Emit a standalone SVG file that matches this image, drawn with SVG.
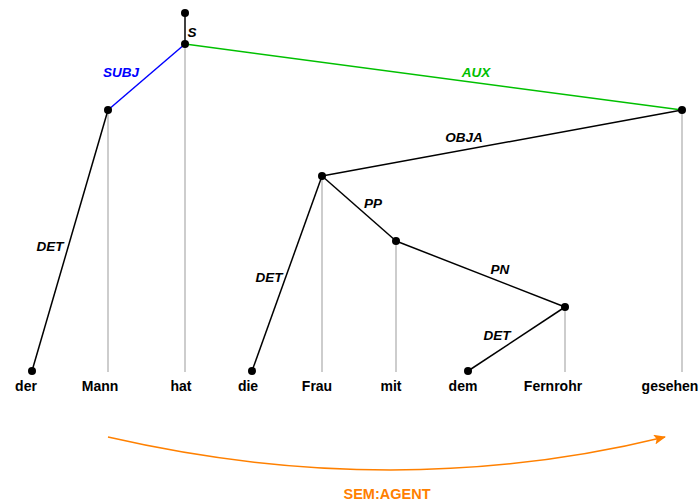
<svg xmlns="http://www.w3.org/2000/svg" width="699" height="504" viewBox="0 0 699 504">
<style>
.g{stroke:#bdbdbd;stroke-width:1.5;fill:none}
.e{stroke:#000;stroke-width:1.5;fill:none}
.d{fill:#000}
.w{font-family:"Liberation Sans",Arial,sans-serif;font-size:14px;font-weight:bold;text-anchor:middle;fill:#000}
.l{font-family:"Liberation Sans",Arial,sans-serif;font-size:13.5px;font-weight:bold;font-style:italic;text-anchor:middle;fill:#000}
</style>
<defs>
<marker id="ah" markerWidth="12" markerHeight="10" refX="11" refY="5" orient="auto" markerUnits="userSpaceOnUse">
<path d="M0,0 L12,5 L0,10 L2.5,5 Z" fill="#ff8000"/>
</marker>
</defs>
<g id="connectors">
<line class="g" x1="108" y1="110" x2="108" y2="372"/>
<line class="g" x1="185" y1="44" x2="185" y2="372"/>
<line class="g" x1="322" y1="176" x2="322" y2="372"/>
<line class="g" x1="396" y1="241" x2="396" y2="372"/>
<line class="g" x1="565" y1="307" x2="565" y2="372"/>
<line class="g" x1="682" y1="110" x2="682" y2="372"/>
<line class="e" x1="185" y1="13" x2="185" y2="44"/>
<line x1="185" y1="44" x2="108" y2="110" stroke="#0000ff" stroke-width="1.5"/>
<line x1="185" y1="44" x2="682" y2="110" stroke="#00c000" stroke-width="1.5"/>
<line class="e" x1="108" y1="110" x2="32" y2="371"/>
<line class="e" x1="682" y1="110" x2="322" y2="176"/>
<line class="e" x1="322" y1="176" x2="252" y2="371"/>
<line class="e" x1="322" y1="176" x2="396" y2="241"/>
<line class="e" x1="396" y1="241" x2="565" y2="307"/>
<line class="e" x1="565" y1="307" x2="468" y2="371"/>
<path d="M108,437 Q395,503 665,437" fill="none" stroke="#ff8000" stroke-width="1.5" marker-end="url(#ah)"/>
</g>
<g id="n-root"><circle class="d" cx="185" cy="13" r="4"/></g>
<g id="n-S"><circle class="d" cx="185" cy="44" r="4"/><text class="l" x="192" y="37">S</text></g>
<g id="n-Mann"><circle class="d" cx="108" cy="110" r="4"/></g>
<g id="n-gesehen"><circle class="d" cx="682" cy="110" r="4"/></g>
<g id="n-Frau"><circle class="d" cx="322" cy="176" r="4"/></g>
<g id="n-mit"><circle class="d" cx="396" cy="241" r="4"/></g>
<g id="n-Fernrohr"><circle class="d" cx="565" cy="307" r="4"/></g>
<g id="n-der"><circle class="d" cx="32" cy="371" r="4"/></g>
<g id="n-die"><circle class="d" cx="252" cy="371" r="4"/></g>
<g id="n-dem"><circle class="d" cx="468" cy="371" r="4"/></g>
<g id="labels">
<text class="l" x="121" y="77" style="fill:#0000ff">SUBJ</text>
<text class="l" x="476" y="77" style="fill:#00c000">AUX</text>
<text class="l" x="464" y="142">OBJA</text>
<text class="l" x="373" y="208">PP</text>
<text class="l" x="500" y="274">PN</text>
<text class="l" x="50" y="251">DET</text>
<text class="l" x="269" y="282">DET</text>
<text class="l" x="497" y="340">DET</text>
<text class="l" x="387" y="499" style="font-style:normal;font-size:14.5px;fill:#ff8000">SEM:AGENT</text>
</g>
<g id="words">
<text class="w" x="26" y="391">der</text>
<text class="w" x="100" y="391">Mann</text>
<text class="w" x="181" y="391">hat</text>
<text class="w" x="248" y="391">die</text>
<text class="w" x="317" y="391">Frau</text>
<text class="w" x="391" y="391">mit</text>
<text class="w" x="463" y="391">dem</text>
<text class="w" x="553" y="391">Fernrohr</text>
<text class="w" x="670" y="391">gesehen</text>
</g>
</svg>
